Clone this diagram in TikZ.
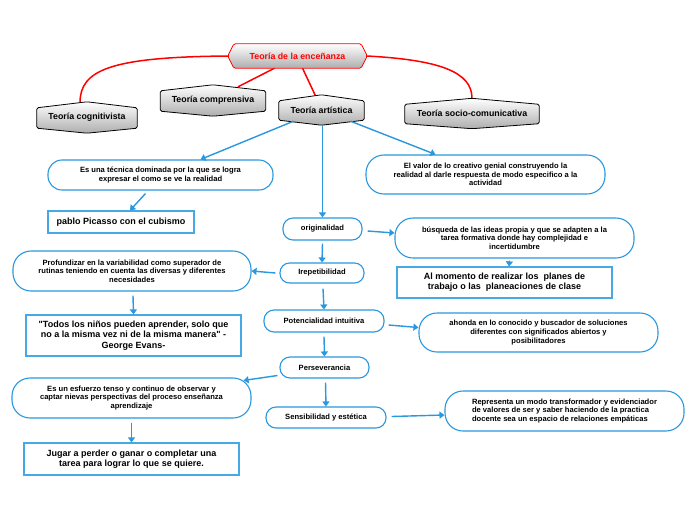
\documentclass[tikz,border=0pt]{standalone}
\usepackage{fontspec}
\setmainfont{Liberation Sans}
\newfontfamily\plainf{Liberation Sans}
\usetikzlibrary{arrows.meta,backgrounds,calc}
\definecolor{myblue}{RGB}{41,152,222}
\definecolor{boxblue}{RGB}{70,168,228}
\definecolor{myred}{RGB}{255,0,0}
\newcommand\smallf{\fontsize{7.6}{8.6}\selectfont\bfseries}
\newcommand\boxf{\fontsize{9}{10.3}\selectfont\bfseries}
\newcommand\hexf{\fontsize{8.8}{10}\selectfont\bfseries}
\begin{document}
\begin{tikzpicture}[x=1pt,y=-1pt,
 hexnode/.style={inner sep=0, text=black, font=\hexf},
 hexshape/.style={draw=black, line width=0.8pt, top color=white, bottom color=black!32, rounded corners=1.5pt},
 pill/.style={draw=myblue, line width=1.1pt, fill=white, align=center, inner sep=0, font=\smallf},
 sbox/.style={draw=boxblue, line width=1.2pt, fill=white, align=center, inner sep=0, font=\boxf},
 arr/.style={draw=myblue, line width=1.4pt, -{Triangle[width=7pt,length=5pt]}},
 redl/.style={draw=myred, line width=1.5pt}]
\path[use as bounding box] (0,0) rectangle (696,520);

% hexagonal title nodes
\node[hexnode, minimum width=139pt, minimum height=24pt, text=myred] (root) at (297.5,56) {Teoría de la enceñanza};
\node[hexnode, minimum width=100pt, minimum height=31pt] (cog) at (87,117.5) {Teoría cognitivista};
\node[hexnode, minimum width=105pt, minimum height=31pt] (comp) at (213,100.5) {Teoría comprensiva};
\node[hexnode, minimum width=85pt, minimum height=30pt] (art) at (321.5,110) {Teoría artística};
\node[hexnode, minimum width=134pt, minimum height=30pt] (soc) at (472,113.5) {Teoría socio-comunicativa};

% pills and boxes
\node[pill, minimum width=225pt, minimum height=30pt, rounded corners=14pt] (tec) at (160.5,175) {Es una técnica dominada por la que se logra\\expresar el como se ve la realidad};
\node[sbox, minimum width=146pt, minimum height=22pt] (pic) at (121,222) {pablo Picasso con el cubismo};
\node[pill, minimum width=239pt, minimum height=39pt, rounded corners=18pt] (valor) at (485.5,174.5) {El valor de lo creativo genial construyendo la\\realidad al darle respuesta de modo especifico a la\\actividad};
\node[pill, minimum width=79pt, minimum height=22pt, rounded corners=10pt] (orig) at (322.5,229) {originalidad};
\node[pill, minimum width=239pt, minimum height=40pt, rounded corners=18pt] (busq) at (514.5,238) {búsqueda de las ideas propia y que se adapten a la\\tarea formativa donde hay complejidad e\\incertidumbre};
\node[sbox, minimum width=215pt, minimum height=31pt] (mom) at (504.5,282.5) {Al momento de realizar los\ \ planes de\\trabajo o las\ \ planeaciones de clase};
\node[pill, minimum width=84pt, minimum height=20pt, rounded corners=9.5pt] (irep) at (322,273) {Irepetibilidad};
\node[pill, minimum width=238pt, minimum height=40pt, rounded corners=18pt] (prof) at (132,271) {Profundizar en la variabilidad como superador de\\rutinas teniendo en cuenta las diversas y diferentes\\necesidades};
\node[sbox, minimum width=215pt, minimum height=41pt, font=\plainf\boxf] (todos) at (133.5,335.5) {"Todos los niños pueden aprender, solo que\\no a la misma vez ni de la misma manera" -\\George Evans-};
\node[pill, minimum width=120pt, minimum height=22pt, rounded corners=10pt] (pot) at (324,321) {Potencialidad intuitiva};
\node[pill, minimum width=239pt, minimum height=39pt, rounded corners=18pt] (aho) at (538.5,332.5) {ahonda en lo conocido y buscador de soluciones\\diferentes con significados abiertos y\\posibilitadores};
\node[pill, minimum width=89pt, minimum height=21pt, rounded corners=10pt] (pers) at (324.5,367.5) {Perseverancia};
\node[pill, minimum width=239pt, minimum height=40pt, rounded corners=18pt] (esf) at (131.5,398) {Es un esfuerzo tenso y continuo de observar y\\captar nievas perspectivas del proceso enseñanza\\aprendizaje};
\node[sbox, minimum width=215pt, minimum height=32pt] (jug) at (131.5,459) {Jugar a perder o ganar o completar una\\tarea para lograr lo que se quiere.};
\node[pill, minimum width=120pt, minimum height=21pt, rounded corners=10pt] (sens) at (326,417.5) {Sensibilidad y estética};
\node[pill, minimum width=239pt, minimum height=40pt, rounded corners=18pt, align=left] (rep) at (564.5,411) {Representa un modo transformador y evidenciador\\de valores de ser y saber haciendo de la practica\\docente sea un espacio de relaciones empáticas};

\begin{pgfonlayer}{background}
\fill[white] (0,0) rectangle (696,520);
% red connectors
\draw[redl] (root.west) .. controls (110,57) and (80,70) .. ([shift={(-7,1)}]cog.north);
\draw[redl] ([shift={(-23,0)}]root.south) -- ([shift={(25,2)}]comp.north);
\draw[redl] ([shift={(5,0)}]root.south) -- ([shift={(-6,1)}]art.north);
\draw[redl] (root.east) .. controls (440,60) and (472,72) .. (soc.north);
% hexagon shapes
\path[hexshape, draw=myred] (root.west) -- ([shift={(6,0)}]root.north west) -- ([shift={(-6,0)}]root.north east) -- (root.east) -- ([shift={(-6,0)}]root.south east) -- ([shift={(6,0)}]root.south west) -- cycle;
\foreach \n in {cog,comp,art,soc}{
\path[hexshape] (\n.north) -- ([shift={(0,6)}]\n.north east) -- ([shift={(0,-5)}]\n.south east) -- (\n.south) -- ([shift={(0,-5)}]\n.south west) -- ([shift={(0,6)}]\n.north west) -- cycle;
}
\end{pgfonlayer}

% blue connectors
\draw[arr] ([shift={(-28,-4)}]art.south) -- ([shift={(40,0)}]tec.north);
\draw[arr] ([shift={(1,0)}]art.south) -- (orig.north);
\draw[arr] ([shift={(29,-4)}]art.south) -- ([shift={(-50,0)}]valor.north);
\draw[arr] ([shift={(-15,3)}]tec.south) -- ([shift={(9,0)}]pic.north);
\draw[arr] ([shift={(5,2)}]orig.east) -- ([shift={(0,-5)}]busq.west);
\draw[arr] ([shift={(-5,2)}]busq.south) -- ([shift={(4.5,0)}]mom.north);
\draw[arr] ([shift={(0,3)}]orig.south) -- (irep.north);
\draw[arr] ([shift={(-4,0)}]irep.west) -- (prof.east);
\draw[arr] ([shift={(1,4)}]prof.south) -- (todos.north);
\draw[arr] ([shift={(1,5)}]irep.south) -- (pot.north);
\draw[arr] ([shift={(4,4)}]pot.east) -- ([shift={(0,-5)}]aho.west);
\draw[arr] ([shift={(0,4)}]pot.south) -- (pers.north);
\draw[arr] ([shift={(-2,8)}]pers.west) -- ([shift={(-8,3)}]esf.north east);
\draw[arr] ([shift={(0,4)}]esf.south) -- (jug.north);
\draw[arr] ([shift={(1,4)}]pers.south) -- (sens.north);
\draw[arr] ([shift={(5,-1)}]sens.east) -- ([shift={(0,4)}]rep.west);
\end{tikzpicture}
\end{document}
